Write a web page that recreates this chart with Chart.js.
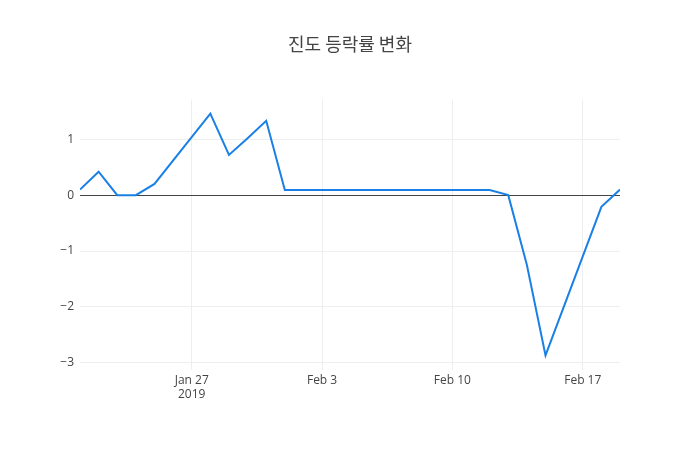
<!DOCTYPE html>
<html>
<head>
<meta charset="utf-8">
<script src="https://cdn.jsdelivr.net/npm/chart.js@4"></script>
<style>
  body { margin: 0; background: #fff; }
  #wrap { width: 700px; height: 450px; }
</style>
</head>
<body>
<div id="wrap"><canvas id="chart" width="700" height="450"></canvas></div>
<script>
const dates = ['2019-01-21', '2019-01-22', '2019-01-23', '2019-01-24', '2019-01-25',
    '2019-01-28', '2019-01-29', '2019-01-30', '2019-01-31', '2019-02-01',
    '2019-02-07', '2019-02-08', '2019-02-11', '2019-02-12', '2019-02-13',
    '2019-02-14', '2019-02-15', '2019-02-18', '2019-02-19'];
const values = [0.10, 0.42, 0.00, 0.00, 0.20,
    1.46, 0.72, 1.02, 1.33, 0.09,
    0.09, 0.09, 0.09, 0.09, 0.00,
    -1.25, -2.87, -0.21, 0.10];
const xTickDates = ['2019-01-27', '2019-02-03', '2019-02-10', '2019-02-17'];
const xTickLabels = [['Jan 27', '2019'], 'Feb 3', 'Feb 10', 'Feb 17'];
const yTicks = [-3, -2, -1, 0, 1];

const DAY = 86400000;
const t0 = Date.parse(dates[0]);
const dayOf = d => (Date.parse(d) - t0) / DAY;

const points = dates.map((d, i) => ({ x: dayOf(d), y: values[i] }));
const xTickPos = xTickDates.map(dayOf);

const ctx = document.getElementById('chart').getContext('2d');
new Chart(ctx, {
    type: 'line',
    data: {
        datasets: [{
            data: points,
            borderColor: '#1a80e6',
            borderWidth: 2,
            pointRadius: 0,
            tension: 0,
            fill: false
        }]
    },
    options: {
        responsive: false,
        animation: false,
        layout: { padding: 0 },
        plugins: {
            legend: { display: false },
            tooltip: { enabled: false },
            title: {
                display: true,
                text: '진도 등락률 변화',
                color: '#444',
                font: { family: '"Noto Sans CJK KR", "Open Sans"', size: 18, weight: 'normal' },
                padding: { top: 33, bottom: 45 }
            }
        },
        scales: {
            x: {
                type: 'linear',
                min: dayOf(dates[0]),
                max: dayOf(dates[dates.length - 1]),
                afterBuildTicks: axis => { axis.ticks = xTickPos.map(v => ({ value: v })); },
                afterFit: axis => { axis.height = 80; },
                border: { display: false },
                grid: { color: '#eee', drawTicks: false },
                ticks: {
                    color: '#444',
                    font: { family: '"Open Sans"', size: 12 },
                    padding: 3,
                    maxRotation: 0,
                    callback: (v, i) => xTickLabels[i]
                }
            },
            y: {
                min: -3.13,
                max: 1.71,
                afterBuildTicks: axis => { axis.ticks = yTicks.map(v => ({ value: v })); },
                afterFit: axis => { axis.width = 80; },
                border: { display: false },
                grid: {
                    drawTicks: false,
                    color: c => c.tick && c.tick.value === 0 ? '#444' : '#eee',
                    lineWidth: 1
                },
                ticks: {
                    color: '#444',
                    font: { family: '"Open Sans"', size: 12 },
                    padding: 6,
                    callback: v => v < 0 ? '\u2212' + Math.abs(v) : String(v)
                }
            },
            // empty right margin so the title centres on the whole canvas
            yRight: {
                position: 'right',
                min: 0,
                max: 1,
                afterFit: axis => { axis.width = 80; },
                border: { display: false },
                grid: { display: false },
                ticks: { display: false }
            }
        }
    }
});
</script>
</body>
</html>
